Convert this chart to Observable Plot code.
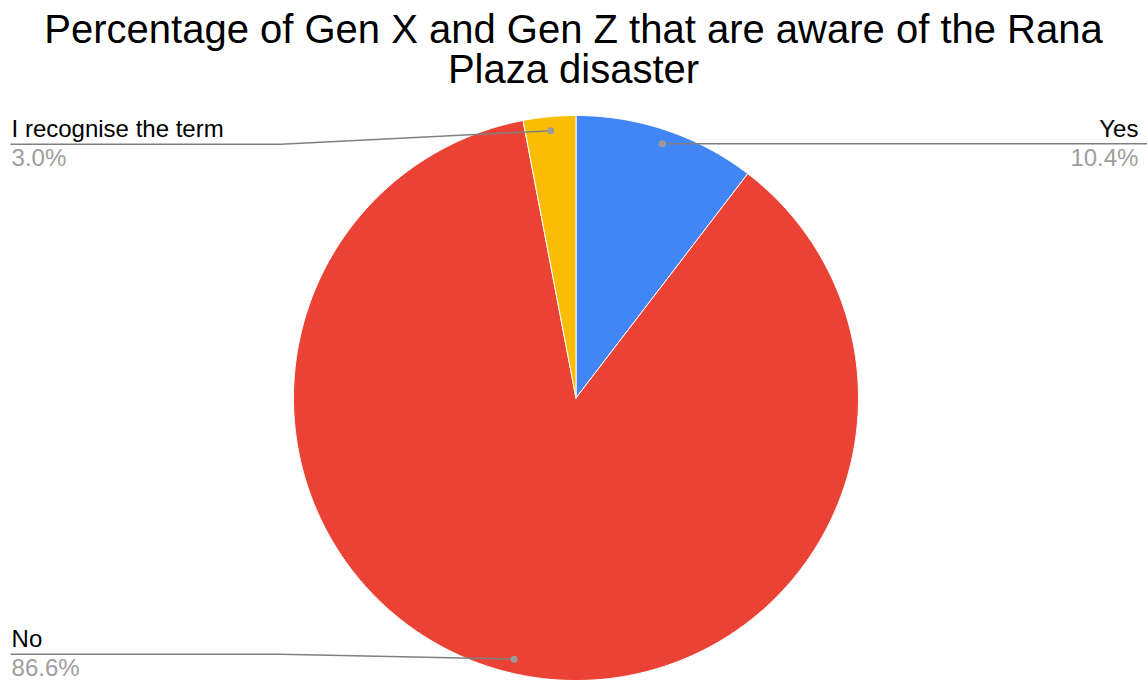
<!DOCTYPE html>
<html><head><meta charset="utf-8">
<script src="https://cdn.jsdelivr.net/npm/d3@7"></script>
<script src="https://cdn.jsdelivr.net/npm/@observablehq/plot@0.6"></script>
<style>
body{margin:0;background:#fff;font-family:"Liberation Sans",Arial,sans-serif;}
#title{height:100px;text-align:center;font-size:40px;line-height:40px;padding-top:9px;box-sizing:border-box;color:#000;white-space:nowrap;}
#chart svg{display:block;}
</style></head><body>
<div id="title">Percentage of Gen X and Gen Z that are aware of the Rana<br>Plaza disaster</div>
<div id="chart"></div>
<script>
const categories = ["Yes", "No", "I recognise the term"];
const values = [10.4, 86.6, 3.0];
const percentLabels = ["10.4%", "86.6%", "3.0%"];
const colors = ["#4285F4", "#EA4335", "#FBBC04"];

// layout (unit-circle coordinates)
const side = ["right", "left", "left"];
const labelLineY = [null, -0.907, 0.898];
const edgeLeft = -2.0, edgeRight = 2.03, kinkX = -1.046, dotR = 0.95;
const textLeft = -1.998, textRight = 1.991;

const total = d3.sum(values);
let acc = 0;
const slices = categories.map((c, i) => {
  const a0 = acc / total * 2 * Math.PI;
  acc += values[i];
  const a1 = acc / total * 2 * Math.PI;
  return {c, i, a0, a1, mid: (a0 + a1) / 2};
});

const wedgePts = [];
for (const s of slices) {
  wedgePts.push({c: s.c, x: 0, y: 0});
  const n = Math.max(4, Math.ceil((s.a1 - s.a0) / 0.005));
  for (let k = 0; k <= n; k++) {
    const a = s.a0 + (s.a1 - s.a0) * k / n;
    wedgePts.push({c: s.c, x: Math.sin(a), y: Math.cos(a)});
  }
  wedgePts.push({c: s.c, x: 0, y: 0});
}

const leaderPts = [], dots = [], labels = [];
for (const s of slices) {
  const dx = dotR * Math.sin(s.mid), dy = dotR * Math.cos(s.mid);
  dots.push({c: s.c, x: dx, y: dy});
  if (side[s.i] === "right") {
    leaderPts.push({c: s.c, x: dx, y: dy}, {c: s.c, x: edgeRight, y: dy});
    labels.push({c: s.c, p: percentLabels[s.i], x: textRight, y: dy, anchor: "end"});
  } else {
    const ly = labelLineY[s.i];
    leaderPts.push({c: s.c, x: edgeLeft, y: ly}, {c: s.c, x: kinkX, y: ly}, {c: s.c, x: dx, y: dy});
    labels.push({c: s.c, p: percentLabels[s.i], x: textLeft, y: ly, anchor: "start"});
  }
}

const marks = slices.map(s => Plot.line(wedgePts.filter(d => d.c === s.c), {
  x: "x", y: "y", fill: colors[s.i], stroke: "#fff", strokeWidth: 1, curve: "linear"
}));
for (const anchor of ["start", "end"]) {
  const ls = labels.filter(d => d.anchor === anchor);
  marks.push(
    Plot.text(ls, {x: "x", y: "y", text: "c", textAnchor: anchor, lineAnchor: "bottom", dy: -7, fontSize: 24, fill: "#000"}),
    Plot.text(ls, {x: "x", y: "y", text: "p", textAnchor: anchor, lineAnchor: "bottom", dy: 22, fontSize: 24, fill: "#9e9e9e"})
  );
}
marks.push(
  Plot.line(leaderPts, {x: "x", y: "y", z: "c", stroke: "#808080", strokeWidth: 1.5}),
  Plot.dot(dots, {x: "x", y: "y", r: 3.5, fill: "#9a9a9a", stroke: "none"})
);

const chart = Plot.plot({
  width: 1147, height: 580, margin: 0,
  style: {fontFamily: '"Liberation Sans", Arial, sans-serif', background: "#fff"},
  x: {domain: [-1, 1], range: [293, 858], axis: null},
  y: {domain: [-1, 1], range: [580, 15], axis: null},
  marks
});
document.getElementById("chart").appendChild(chart);
</script>
</body></html>
